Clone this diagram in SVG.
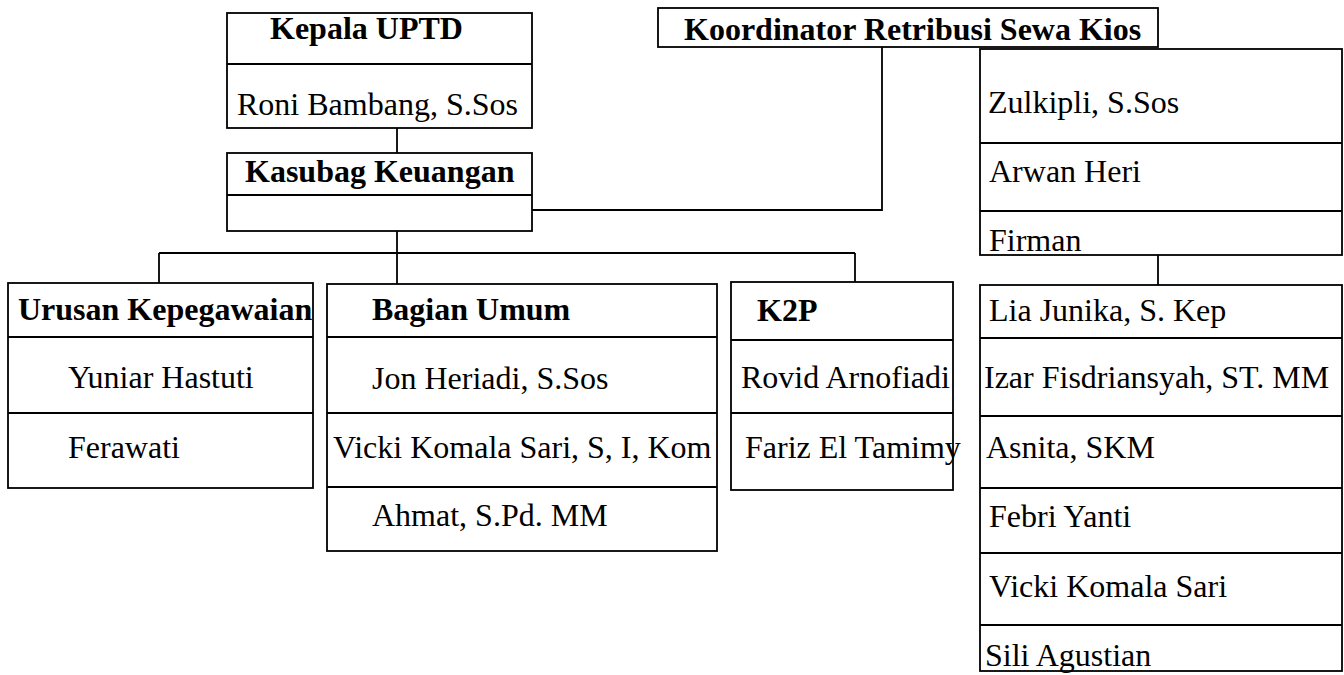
<svg xmlns="http://www.w3.org/2000/svg" width="1344" height="675" viewBox="0 0 1344 675">
<style>
.box{fill:#fff;stroke:#000;stroke-width:1.8}
.div{stroke:#000;stroke-width:1.8;fill:none}
.con{stroke:#000;stroke-width:1.8;fill:none}
.t{font-family:"Liberation Serif","Times New Roman",serif;font-size:32px;fill:#000}
.b{font-weight:bold}
</style>
<rect width="1344" height="675" fill="#fff"/>
<g id="connectors">
<path class="con" d="M397,128 V153"/>
<path class="con" d="M532,210 H882 V47"/>
<path class="con" d="M397,231 V284"/>
<path class="con" d="M159,253 H855"/>
<path class="con" d="M159,253 V283"/>
<path class="con" d="M855,253 V282"/>
<path class="con" d="M1158,255 V285"/>
</g>
<g id="kepala-uptd">
<rect class="box" x="227" y="13" width="305" height="115"/>
<line class="div" x1="227" y1="64" x2="532" y2="64"/>
<text class="t b" x="270" y="39">Kepala UPTD</text>
<text class="t" x="237" y="115">Roni Bambang, S.Sos</text>
</g>
<g id="kasubag-keuangan">
<rect class="box" x="227" y="153" width="305" height="78"/>
<line class="div" x1="227" y1="195" x2="532" y2="195"/>
<text class="t b" x="245" y="182">Kasubag Keuangan</text>
</g>
<g id="koordinator">
<rect class="box" x="658" y="8" width="500" height="39"/>
<text class="t b" x="684" y="40">Koordinator Retribusi Sewa Kios</text>
</g>
<g id="koordinator-staff">
<rect class="box" x="980" y="49" width="362" height="206"/>
<line class="div" x1="980" y1="143" x2="1342" y2="143"/>
<line class="div" x1="980" y1="211" x2="1342" y2="211"/>
<text class="t" x="988" y="113">Zulkipli, S.Sos</text>
<text class="t" x="989" y="182">Arwan Heri</text>
<text class="t" x="989" y="251">Firman</text>
</g>
<g id="urusan-kepegawaian">
<rect class="box" x="8" y="283" width="305" height="205"/>
<line class="div" x1="8" y1="337" x2="313" y2="337"/>
<line class="div" x1="8" y1="413" x2="313" y2="413"/>
<text class="t b" x="18" y="320">Urusan Kepegawaian</text>
<text class="t" x="68" y="388">Yuniar Hastuti</text>
<text class="t" x="68" y="458">Ferawati</text>
</g>
<g id="bagian-umum">
<rect class="box" x="327" y="284" width="390" height="267"/>
<line class="div" x1="327" y1="337" x2="717" y2="337"/>
<line class="div" x1="327" y1="413" x2="717" y2="413"/>
<line class="div" x1="327" y1="487" x2="717" y2="487"/>
<text class="t b" x="372" y="320">Bagian Umum</text>
<text class="t" x="372" y="389">Jon Heriadi, S.Sos</text>
<text class="t" x="333" y="458">Vicki Komala Sari, S, I, Kom</text>
<text class="t" x="372" y="526">Ahmat, S.Pd. MM</text>
</g>
<g id="k2p">
<rect class="box" x="731" y="282" width="222" height="208"/>
<line class="div" x1="731" y1="340" x2="953" y2="340"/>
<line class="div" x1="731" y1="413" x2="953" y2="413"/>
<text class="t b" x="757" y="321">K2P</text>
<text class="t" x="741" y="388">Rovid Arnofiadi</text>
<text class="t" x="745" y="458">Fariz El Tamimy</text>
</g>
<g id="staff-list">
<rect class="box" x="980" y="285" width="362" height="386"/>
<line class="div" x1="980" y1="338" x2="1342" y2="338"/>
<line class="div" x1="980" y1="416" x2="1342" y2="416"/>
<line class="div" x1="980" y1="488" x2="1342" y2="488"/>
<line class="div" x1="980" y1="553" x2="1342" y2="553"/>
<line class="div" x1="980" y1="625" x2="1342" y2="625"/>
<text class="t" x="989" y="321">Lia Junika, S. Kep</text>
<text class="t" x="984" y="388">Izar Fisdriansyah, ST. MM</text>
<text class="t" x="986" y="458">Asnita, SKM</text>
<text class="t" x="989" y="527">Febri Yanti</text>
<text class="t" x="989" y="597">Vicki Komala Sari</text>
<text class="t" x="985" y="666">Sili Agustian</text>
</g>
</svg>
